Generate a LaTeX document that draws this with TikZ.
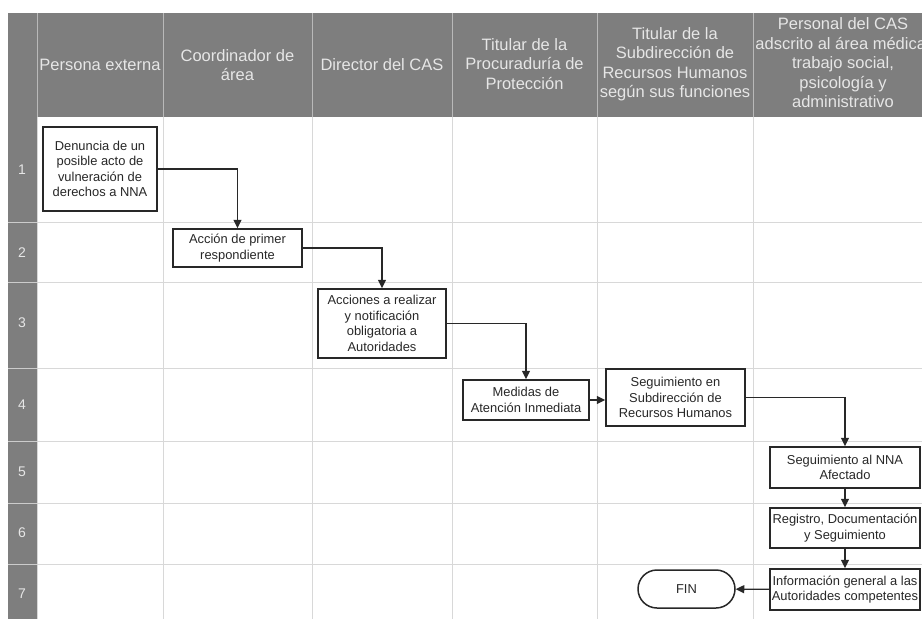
\documentclass[tikz,border=0pt]{standalone}
\usepackage{fontspec}
\setmainfont{Liberation Sans}
\usetikzlibrary{arrows.meta,calc}

\definecolor{lanegray}{RGB}{126,126,126}
\definecolor{gridgray}{RGB}{216,216,216}
\definecolor{headtext}{RGB}{230,230,230}
\definecolor{tinta}{RGB}{40,40,40}

\begin{document}
\begin{tikzpicture}[x=1pt,y=-1pt,
  caja/.style={draw=tinta,text=tinta,line width=1.5pt,fill=white,align=center,inner sep=0pt,
    font=\fontsize{12.9}{15.5}\selectfont},
  flujo/.style={draw=tinta,line width=1.3pt,-{Triangle[length=8.5pt,width=8pt]}},
  encab/.style={text=headtext,align=center,font=\fontsize{16.5}{19.5}\selectfont},
  fila/.style={text=headtext,font=\fontsize{14}{16}\selectfont}]

\useasboundingbox (0,0) rectangle (922,619);

% header band and the column of row numbers
\fill[lanegray] (8,13) rectangle (922,117);
\fill[lanegray] (8,117) rectangle (37,619);

% grid
\foreach \x in {37,163,312,452,597,753}{
    \draw[gray!55, line width=0.6pt] (\x,13) -- (\x,117);
    \draw[gridgray, line width=0.6pt] (\x,117) -- (\x,619);
   }
\foreach \y in {222,282,368,441,503,564}{
    \draw[gridgray, line width=0.6pt] (37,\y) -- (922,\y);
    \draw[gray!40, line width=0.6pt] (8,\y) -- (37,\y);
   }

\foreach \n/\y in {1/170,2/253,3/323,4/405,5/472,6/533,7/594}
    \node[fila] (fila\n) at (22,\y) {\n};

\node[encab] (col1) at (100,65) {Persona externa};
\node[encab] (col2) at (237.5,65) {Coordinador de\\área};
\node[encab] (col3) at (382,65) {Director del CAS};
\node[encab] (col4) at (524.5,64) {Titular de la\\Procuraduría de\\Protección};
\node[encab] (col5) at (675,64) {Titular de la\\Subdirección de\\Recursos Humanos\\según sus funciones};
\node[encab] (col6) at (843,63) {Personal del CAS\\adscrito al área médica,\\trabajo social,\\psicología y\\administrativo};

% steps
\node[caja, minimum width=114, minimum height=84] (denuncia) at (100,169)
    {Denuncia de un\\posible acto de\\vulneración de\\derechos a NNA};
\node[caja, minimum width=129, minimum height=38] (primer) at (237.5,248)
    {Acción de primer\\respondiente};
\node[caja, minimum width=128, minimum height=69] (acciones) at (382,323.5)
    {Acciones a realizar\\y notificación\\obligatoria a\\Autoridades};
\node[caja, minimum width=126, minimum height=40] (medidas) at (526,400)
    {Medidas de\\Atención Inmediata};
\node[caja, minimum width=139, minimum height=57] (subdir) at (675.5,397.5)
    {Seguimiento en\\Subdirección de\\Recursos Humanos};
\node[caja, minimum width=150, minimum height=41] (nna) at (845,467.5)
    {Seguimiento al NNA\\Afectado};
\node[caja, minimum width=150, minimum height=40] (registro) at (845,528)
    {Registro, Documentación\\y Seguimiento};
\node[caja, minimum width=150, minimum height=41] (info) at (845,589.5)
    {Información general a las\\Autoridades competentes};
\node[caja, rounded corners=19pt, minimum width=97, minimum height=38] (fin) at (686.5,589)
    {FIN};

\draw[flujo] (denuncia) -| (primer);
\draw[flujo] (primer) -| (acciones);
\draw[flujo] (acciones) -| (medidas);
\draw[flujo] (medidas.east) -- (medidas.east -| subdir.west);
\draw[flujo] (subdir) -| (nna);
\draw[flujo] (nna) -- (registro);
\draw[flujo] (registro) -- (info);
\draw[flujo] (info) -- (fin);

\end{tikzpicture}
\end{document}
